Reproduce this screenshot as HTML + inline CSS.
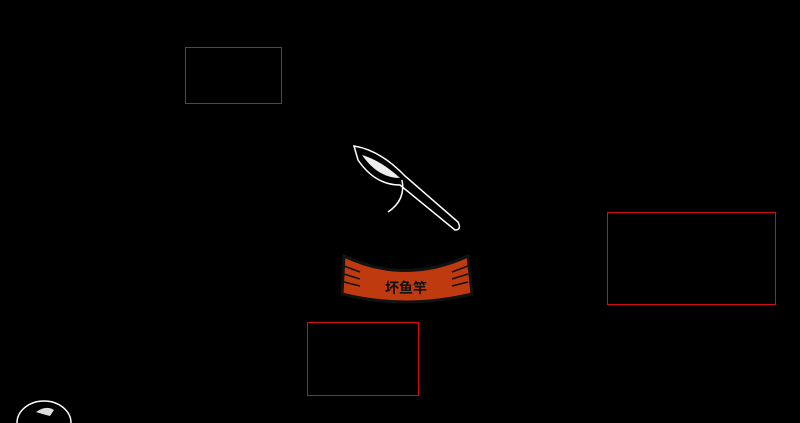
<!DOCTYPE html>
<html><head><meta charset="utf-8"><style>
html,body{margin:0;padding:0;background:#000;width:800px;height:423px;overflow:hidden}
.b{position:absolute;border:1px solid #d01010;box-sizing:border-box}
</style></head><body>
<div class="b" style="left:185px;top:47px;width:97px;height:57px;border-color:#b02020"></div>
<div class="b" style="left:607px;top:212px;width:169px;height:93px"></div>
<div class="b" style="left:307px;top:322px;width:112px;height:74px"></div>
<svg width="800" height="423" style="position:absolute;left:0;top:0">
<!-- knife -->
<path d="M354,146 Q380,150 405,176 L458,222 Q462,230 455,230 L400,185 Q375,185 358,160 Z" fill="#000" stroke="#fff" stroke-width="1.5"/>
<path d="M362,155 Q380,160 400,178 Q378,178 362,155 Z" fill="#eee"/>
<path d="M402,180 Q406,200 388,212" fill="none" stroke="#fff" stroke-width="1.5"/>
<!-- banner -->
<path d="M344,256 Q405,285 468,256 L472,294 Q405,310 342,294 Z" fill="#c03a10" stroke="#111" stroke-width="3"/>
<g stroke="#111" stroke-width="1.5">
<line x1="344" y1="266" x2="360" y2="272"/><line x1="344" y1="274" x2="360" y2="279"/><line x1="344" y1="282" x2="360" y2="286"/>
<line x1="468" y1="266" x2="452" y2="272"/><line x1="468" y1="274" x2="452" y2="279"/><line x1="468" y1="282" x2="452" y2="286"/>
</g>
<text x="406" y="293" text-anchor="middle" font-family="'Noto Sans CJK SC',sans-serif" font-weight="bold" font-size="14" fill="#111">坏鱼竿</text>
<!-- bottom-left icon -->
<path d="M17,423 A27,22 0 0 1 71,423" fill="none" stroke="#fff" stroke-width="1.5"/>
<path d="M36,412 Q46,405 54,410 L50,416 Q42,414 36,412 Z" fill="#ddd"/>
</svg>
</body></html>
